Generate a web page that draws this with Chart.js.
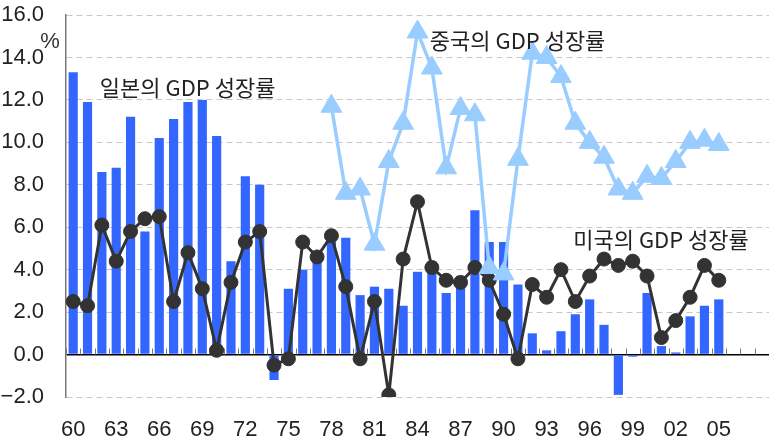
<!DOCTYPE html>
<html>
<head>
<meta charset="utf-8">
<script src="https://cdn.jsdelivr.net/npm/chart.js@4/dist/chart.umd.min.js"></script>
<style>
  html, body { margin: 0; padding: 0; background: #fff; }
  #wrap { width: 769px; height: 441px; }
</style>
</head>
<body>
<div id="wrap"><canvas id="gdpChart"></canvas></div>
<script>
// 1960 ~ 2008, labels every 3 years up to 05
const years = [];
for (let y = 1960; y <= 2008; y++) years.push(String(y % 100).padStart(2, "0"));
const shownLabels = ["60", "63", "66", "69", "72", "75", "78", "81", "84", "87", "90", "93", "96", "99", "02", "05"];

const japanGrowth = [13.3, 11.9, 8.6, 8.8, 11.2, 5.8, 10.2, 11.1, 11.9, 12.0,
  10.3, 4.4, 8.4, 8.0, -1.2, 3.1, 4.0, 4.4, 5.3, 5.5,
  2.8, 3.2, 3.1, 2.3, 3.9, 4.4, 2.9, 3.7, 6.8, 5.3,
  5.3, 3.3, 1.0, 0.2, 1.1, 1.9, 2.6, 1.4, -1.9, -0.1,
  2.9, 0.4, 0.1, 1.8, 2.3, 2.6, null, null, null];

const usGrowth = [2.5, 2.3, 6.1, 4.4, 5.8, 6.4, 6.5, 2.5, 4.8, 3.1,
  0.2, 3.4, 5.3, 5.8, -0.5, -0.2, 5.3, 4.6, 5.6, 3.2,
  -0.2, 2.5, -1.9, 4.5, 7.2, 4.1, 3.5, 3.4, 4.1, 3.5,
  1.9, -0.2, 3.3, 2.7, 4.0, 2.5, 3.7, 4.5, 4.2, 4.4,
  3.7, 0.8, 1.6, 2.7, 4.2, 3.5, null, null, null];

const chinaGrowth = [null, null, null, null, null, null, null, null, null, null,
  null, null, null, null, null, null, null, null, 11.7, 7.6,
  7.8, 5.2, 9.1, 10.9, 15.2, 13.5, 8.8, 11.6, 11.3, 4.1,
  3.8, 9.2, 14.2, 14.0, 13.1, 10.9, 10.0, 9.3, 7.8, 7.6,
  8.4, 8.3, 9.1, 10.0, 10.1, 9.9, null, null, null];

const yTicks = [-2, 0, 2, 4, 6, 8, 10, 12, 14, 16];

// text labels: [text, category index for left edge, y value for middle]
const seriesNotes = [
  ["일본의 GDP 성장률", 2, 12.6],
  ["중국의 GDP 성장률", 25, 14.8],
  ["미국의 GDP 성장률", 35, 5.4],
];

const tickFont = "'Liberation Sans Narrow', 'Arial Narrow', 'Liberation Sans', sans-serif";

const extrasPlugin = {
  id: "extras",
  beforeDatasetsDraw(chart) {
    const { ctx, scales } = chart;
    const x = scales.x, y = scales.y;
    const y0 = y.getPixelForValue(0);
    ctx.save();
    ctx.strokeStyle = "#777";
    ctx.lineWidth = 1;
    for (let i = 0; i <= years.length; i++) {
      const px = Math.round((x.getPixelForValue(i - 1) + x.getPixelForValue(i)) / 2) + 0.5;
      ctx.beginPath();
      ctx.moveTo(px, y0);
      ctx.lineTo(px, y0 - 6);
      ctx.stroke();
    }
    ctx.restore();
  },
  afterDatasetsDraw(chart) {
    const { ctx, scales } = chart;
    ctx.save();
    ctx.fillStyle = "#222";
    ctx.font = "22px 'Noto Sans CJK KR', sans-serif";
    ctx.textBaseline = "middle";
    seriesNotes.forEach(([text, idx, val]) => {
      ctx.fillText(text, scales.x.getPixelForValue(idx) - 2, scales.y.getPixelForValue(val));
    });
    ctx.font = "22px " + tickFont;
    ctx.fillStyle = "#333";
    ctx.textAlign = "center";
    ctx.fillText("%", 50, 42);
    ctx.restore();
  },
};

const ctx = document.getElementById("gdpChart").getContext("2d");
new Chart(ctx, {
  data: {
    labels: years,
    datasets: [
      {
        type: "line",
        label: "중국",
        data: chinaGrowth,
        borderColor: "#99ccff",
        backgroundColor: "#99ccff",
        borderWidth: 3.5,
        pointStyle: "triangle",
        pointRadius: 12,
        pointBorderWidth: 1,
        tension: 0,
        order: 1,
      },
      {
        type: "line",
        label: "미국",
        data: usGrowth,
        borderColor: "#333333",
        backgroundColor: "#333333",
        borderWidth: 3,
        pointStyle: "circle",
        pointRadius: 7,
        pointBorderWidth: 1,
        tension: 0,
        order: 2,
      },
      {
        type: "bar",
        label: "일본",
        data: japanGrowth,
        backgroundColor: "#3366ff",
        barPercentage: 0.64,
        categoryPercentage: 1.0,
        order: 3,
      },
    ],
  },
  options: {
    responsive: true,
    maintainAspectRatio: false,
    animation: false,
    layout: { autoPadding: false, padding: { top: 15, left: 0, right: 0, bottom: 0 } },
    plugins: {
      legend: { display: false },
      tooltip: { enabled: false },
    },
    scales: {
      x: {
        offset: true,
        grid: {
          display: true,
          drawOnChartArea: false,
          drawTicks: true,
          tickLength: 20,
          tickColor: "rgba(0,0,0,0)",
        },
        border: { display: false },
        ticks: {
          autoSkip: false,
          maxRotation: 0,
          padding: 0,
          color: "#222",
          font: { family: tickFont, size: 22 },
          callback: function (value) {
            const lbl = years[value];
            return shownLabels.includes(lbl) ? lbl : "";
          },
        },
        afterFit(scale) {
          scale.height = 44;
        },
      },
      y: {
        min: -2,
        max: 16,
        afterBuildTicks(scale) {
          scale.ticks = yTicks.map((v) => ({ value: v }));
        },
        grid: {
          drawTicks: true,
          tickLength: 22,
          tickColor: "rgba(0,0,0,0)",
          color: (c) => (c.tick && c.tick.value === 0 ? "#000" : "#c8c8c8"),
          lineWidth: (c) => (c.tick && c.tick.value === 0 ? 1.5 : 1),
        },
        border: {
          display: true,
          color: "#777",
          width: 1.5,
          dash: (c) => (c.tick && c.tick.value !== 0 ? [6, 4] : []),
        },
        ticks: {
          padding: 0,
          color: "#222",
          font: { family: tickFont, size: 22 },
          callback: (v) => (v < 0 ? "\u2212" + Math.abs(v).toFixed(1) : v.toFixed(1)),
        },
        afterFit(scale) {
          scale.width = 66;
        },
      },
    },
  },
  plugins: [extrasPlugin],
});
</script>
</body>
</html>
